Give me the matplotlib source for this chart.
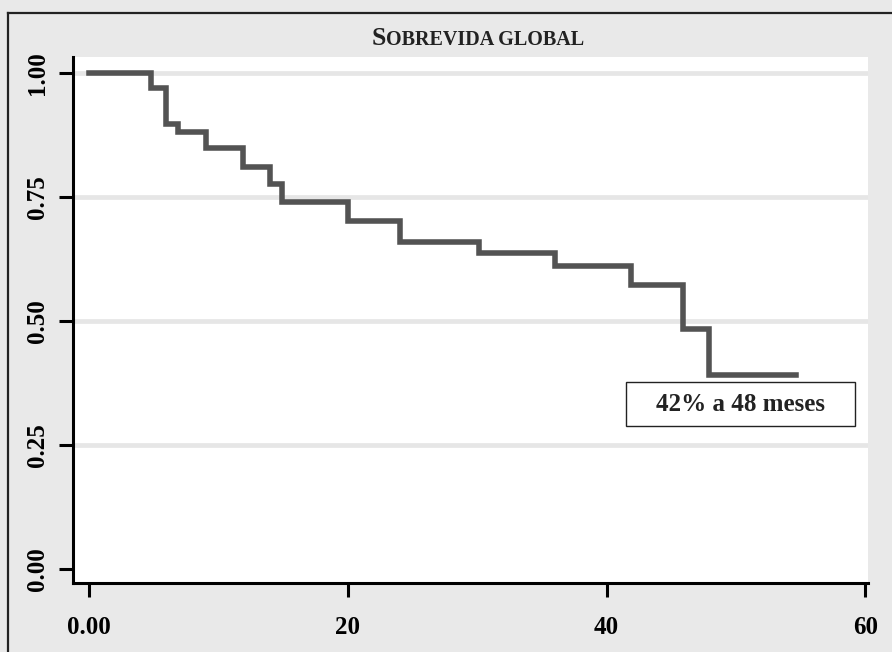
import matplotlib
matplotlib.use("Agg")
from matplotlib import pyplot as plt
from matplotlib.patches import Rectangle
from matplotlib.lines import Line2D

# Kaplan-Meier estimate (months, survival)
months = [0, 4.8, 5.9, 6.9, 9.0, 11.9, 14.0, 14.9, 20.0, 24.0, 30.1, 36.0, 41.9, 45.9, 47.9, 54.6]
survival = [1.0, 0.97, 0.897, 0.882, 0.849, 0.812, 0.776, 0.741, 0.703, 0.659, 0.637, 0.611, 0.573, 0.484, 0.391, 0.391]

x_ticks = [0, 20, 40, 60]
x_labels = ["0.00", "20", "40", "60"]
y_ticks = [0, 0.25, 0.5, 0.75, 1.0]
y_labels = ["0.00", "0.25", "0.50", "0.75", "1.00"]
note = "42% a 48 meses"

serif = ["Liberation Serif", "DejaVu Serif"]

fig = plt.figure(figsize=(8.92, 6.52), dpi=100, facecolor="#e9e9e9")
W, H = 892, 652
ax = fig.add_axes([73 / W, (H - 583) / H, (868 - 73) / W, (583 - 57) / H])
ax.set_facecolor("white")

# outer frame (left and top only)
fig.add_artist(Line2D([8 / W, 8 / W], [0, 1 - 13 / H], color="#222222", lw=1.6, transform=fig.transFigure))
fig.add_artist(Line2D([8 / W, 1], [1 - 13 / H, 1 - 13 / H], color="#222222", lw=1.6, transform=fig.transFigure))

for g in y_ticks[1:]:
    ax.axhline(g, color="#e6e6e6", lw=3.4, zorder=0)

ax.step(months, survival, where="post", color="#535353", lw=4.0, solid_joinstyle="miter", zorder=3)

ax.set_xlim(-1.25, 60.2)
ax.set_ylim(-0.028, 1.033)

ax.set_xticks(x_ticks)
ax.set_xticklabels(x_labels, fontfamily=serif, fontweight="bold", fontsize=18)
ax.set_yticks(y_ticks)
ax.set_yticklabels(y_labels, fontfamily=serif, fontweight="bold", fontsize=18, rotation=90, va="center")
ax.tick_params(axis="x", direction="out", length=10, width=2.2, pad=14, colors="black")
ax.tick_params(axis="y", direction="out", length=10, width=2.2, pad=7, colors="black")

for side in ["top", "right"]:
    ax.spines[side].set_visible(False)
for side in ["left", "bottom"]:
    ax.spines[side].set_linewidth(2.2)
    ax.spines[side].set_color("black")

# annotation box
ax.add_patch(Rectangle((41.5, 0.288), 17.7, 0.089, facecolor="white", edgecolor="#222222", lw=1.0, zorder=4))
ax.text(50.35, 0.333, note, ha="center", va="center", fontfamily=serif, fontweight="bold",
        fontsize=18, color="#222222", zorder=5)

# title in small caps
t1 = fig.text(0.417, 1 - 45 / H, "S", fontfamily=serif, fontweight="bold", fontsize=18.5, color="#222222")
ax.annotate("OBREVIDA GLOBAL", xy=(1, 0), xycoords=t1, va="bottom", ha="left",
            fontfamily=serif, fontweight="bold", fontsize=14.5, color="#222222", annotation_clip=False)

fig.savefig("out.png", dpi=100, facecolor=fig.get_facecolor())
